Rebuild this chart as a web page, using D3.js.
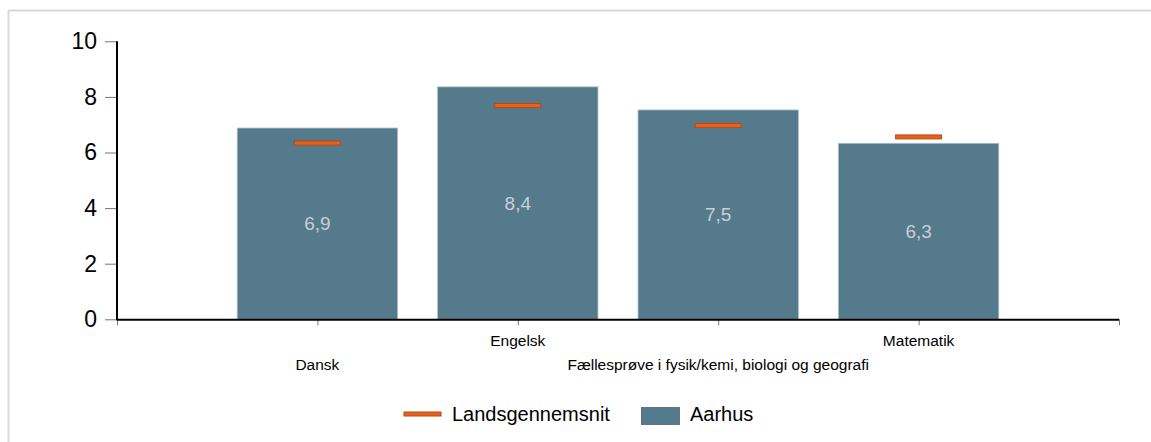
<!DOCTYPE html>
<html><head><meta charset="utf-8">
<script src="https://cdn.jsdelivr.net/npm/d3@7"></script>
<style>body{margin:0;background:#fff;}svg{display:block;font-family:"Liberation Sans",Arial,sans-serif;}</style>
</head><body><svg id="c" width="1151" height="442"></svg>
<script>
const categories = ["Dansk","Engelsk","Fællesprøve i fysik/kemi, biologi og geografi","Matematik"];
const aarhus = [6.88, 8.36, 7.53, 6.33];
const landsgennemsnit = [6.34, 7.69, 6.97, 6.56];
const yTicks = [0,2,4,6,8,10];
const seriesNames = ["Landsgennemsnit","Aarhus"];

const svg = d3.select("#c");
const barColor = "#557a8c", orange = "#e8601c", orangeDark = "#b84a14";

// frame
svg.append("line").attr("x1",8).attr("x2",1151).attr("y1",10.5).attr("y2",10.5).attr("stroke","#d9d9d9").attr("stroke-width",2);
svg.append("line").attr("x1",8.5).attr("x2",8.5).attr("y1",10).attr("y2",442).attr("stroke","#d9d9d9").attr("stroke-width",2);

const x0 = 117, x1 = 1119, yTop = 41.3, yBot = 319.3;
const x = d3.scaleLinear().domain([0, categories.length + 1]).range([x0, x1]);
const y = d3.scaleLinear().domain([0,10]).range([yBot, yTop]);
const step = x(1) - x(0);
const bw = step * 0.8;

// bars
svg.selectAll("rect.bar").data(aarhus).join("rect")
  .attr("x",(d,i)=>x(i+1)-bw/2).attr("width",bw)
  .attr("y",d=>y(d)).attr("height",d=>y(0)-y(d))
  .attr("fill",barColor).attr("stroke","#a9bcc6").attr("stroke-width",0.8);

svg.selectAll("text.val").data(aarhus).join("text")
  .attr("x",(d,i)=>x(i+1)).attr("y",d=>(y(d)+y(0))/2)
  .attr("dy","0.35em").attr("text-anchor","middle")
  .attr("font-size",19).attr("fill","#c9cfd3")
  .text(d=>d3.format(".1f")(d).replace(".",","));

// markers
const mw = 46;
svg.selectAll("rect.mk").data(landsgennemsnit).join("rect")
  .attr("x",(d,i)=>x(i+1)-mw/2).attr("width",mw)
  .attr("y",d=>y(d)-2).attr("height",4)
  .attr("fill",orange).attr("stroke",orangeDark).attr("stroke-width",1);

// y axis
const ya = svg.append("g").attr("transform",`translate(${x0},0)`)
  .call(d3.axisLeft(y).tickValues(yTicks).tickSize(12).tickSizeOuter(0).tickPadding(8).tickFormat(d=>d));
ya.select(".domain").remove();
ya.selectAll(".tick line").attr("stroke","#777").attr("stroke-width",1);
ya.selectAll(".tick text").attr("font-size",23).attr("fill","#000").attr("font-family","Liberation Sans, Arial, sans-serif");
svg.append("line").attr("x1",x0).attr("x2",x0).attr("y1",yTop).attr("y2",yBot+1).attr("stroke","#000").attr("stroke-width",2);

// x axis
const xa = svg.append("g").attr("transform",`translate(0,${yBot})`)
  .call(d3.axisBottom(x).tickValues(d3.range(0, categories.length + 2)).tickSize(6).tickSizeOuter(0).tickFormat(""));
xa.select(".domain").remove();
xa.selectAll(".tick line").attr("stroke","#777");
svg.append("line").attr("x1",x0).attr("x2",x1).attr("y1",yBot+0.5).attr("y2",yBot+0.5).attr("stroke","#000").attr("stroke-width",2);

svg.selectAll("text.cat").data(categories).join("text")
  .attr("x",(d,i)=>x(i+1)).attr("y",(d,i)=> i%2===0 ? 370 : 346)
  .attr("text-anchor","middle").attr("font-size",15.5).attr("fill","#000")
  .text(d=>d);

// legend
const lg = svg.append("g");
lg.append("rect").attr("x",404).attr("y",412).attr("width",37).attr("height",4)
  .attr("fill",orange).attr("stroke",orangeDark).attr("stroke-width",1);
lg.append("text").attr("x",452).attr("y",421).attr("font-size",20).attr("fill","#000").text(seriesNames[0]);
lg.append("rect").attr("x",641).attr("y",407).attr("width",39).attr("height",18).attr("fill",barColor);
lg.append("text").attr("x",690).attr("y",421).attr("font-size",20).attr("fill","#000").text(seriesNames[1]);
</script></body></html>
